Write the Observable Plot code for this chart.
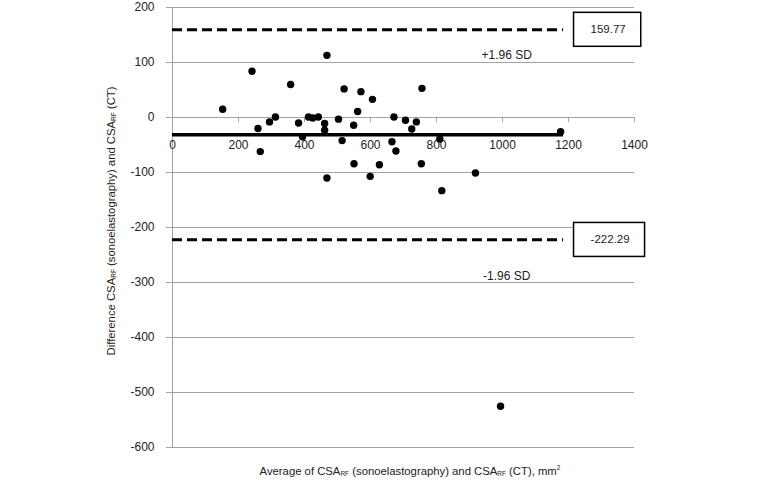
<!DOCTYPE html>
<html><head><meta charset="utf-8">
<script src="https://cdn.jsdelivr.net/npm/d3@7"></script>
<script src="https://cdn.jsdelivr.net/npm/@observablehq/plot@0.6"></script>
<style>
body{margin:0;background:#fff}
#chart svg{font-family:"Liberation Sans Narrow","Arial Narrow","Liberation Sans",Arial,sans-serif}
</style>
</head><body><div id="chart"></div>
<script>
// Bland–Altman data
const avg  = [152,241,259,266,294,312,358,382,394,412,425,442,461,461,468,468,503,514,520,549,550,561,571,599,606,627,665,671,677,706,725,739,754,756,810,816,918,1176,994];
const diff = [15,84,-20,-62,-8,1,60,-10,-35,1,-1,1,-11,-23,113,-110,-3,-42,52,-14,-84,11,47,-107,33,-86,-44,1,-61,-5,-21,-8,-84,53,-39,-133,-101,-26,-525];
const meanDiff = -31.26;
const loaValues = [159.77, -222.29];
const loaText = ["159.77", "-222.29"];
const sdText = ["+1.96 SD", "-1.96 SD"];
const lineExtent = [0, 1185];
const sdLabelX = 1013;
const xTicks = [0,200,400,600,800,1000,1200,1400];
const yTicks = [200,100,0,-100,-200,-300,-400,-500,-600];

const pts = avg.map((a,i)=>({a, d: diff[i]}));
const grey = "#a3a3a3";

const chart = Plot.plot({
  width: 770, height: 492,
  marginLeft: 172, marginRight: 136, marginTop: 7, marginBottom: 45,
  style: {fontSize: "12px", color: "#222", background: "#fff"},
  x: {domain: [0, 1400], axis: null},
  y: {domain: [-600, 200]},
  marks: [
    Plot.gridY(yTicks, {stroke: grey, strokeOpacity: 1, strokeWidth: 1}),
    Plot.ruleX([0], {stroke: grey, strokeWidth: 1}),
    Plot.axisY(yTicks, {tickSize: 6, tickPadding: 12, tickFormat: d => String(d), label: null, stroke: grey, fill: "#222"}),
    Plot.ruleX(xTicks, {x: d => d, y1: 0, y2: 0, insetBottom: -5, stroke: grey}),
    Plot.text(xTicks, {x: d => d, y: 0, dy: 28, text: d => String(d), fill: "#222"}),
    Plot.ruleY(loaValues, {x1: lineExtent[0], x2: lineExtent[1], stroke: "#000", strokeWidth: 3, strokeDasharray: "10,5"}),
    Plot.ruleY([meanDiff], {x1: lineExtent[0], x2: lineExtent[1], stroke: "#000", strokeWidth: 3.5}),
    Plot.dot(pts, {x: "a", y: "d", r: 3.7, fill: "#000", stroke: null}),
    Plot.text(loaValues, {x: lineExtent[1], y: d => d, dx: 27, text: (d,i) => loaText[i], textAnchor: "start", fill: "#222", fontSize: 11.5}),
    Plot.text([loaValues[0]], {x: sdLabelX, y: d => d, dy: 26, text: () => sdText[0], fill: "#222"}),
    Plot.text([loaValues[1]], {x: sdLabelX, y: d => d, dy: 36, text: () => sdText[1], fill: "#222"})
  ]
});
document.getElementById("chart").append(chart);

const svg = d3.select(chart);
// boxes around the limit values
svg.selectAll("text").filter(function(){ return loaText.includes(this.textContent); }).each(function(){
  const b = this.getBBox();
  const pl = 17, pr = 15, pv = 11;
  const r = d3.select(this.parentNode).insert("rect", () => this)
    .attr("x", b.x - pl).attr("y", b.y - pv)
    .attr("width", b.width + pl + pr).attr("height", b.height + 2*pv)
    .attr("fill", "#fff").attr("stroke", "#000").attr("stroke-width", 1.5);
  const tr = this.getAttribute("transform");
  if (tr) r.attr("transform", tr);
});

// axis titles with subscripts
const xt = svg.append("text").attr("x", 410).attr("y", 475).attr("text-anchor", "middle").attr("fill", "#222").attr("font-size", 11.3);
xt.append("tspan").text("Average of CSA");
xt.append("tspan").attr("font-size", 6.5).attr("dy", 1).text("RF");
xt.append("tspan").attr("dy", -1).text(" (sonoelastography) and CSA");
xt.append("tspan").attr("font-size", 6.5).attr("dy", 1).text("RF");
xt.append("tspan").attr("dy", -1).text(" (CT), mm");
xt.append("tspan").attr("font-size", 6.5).attr("dy", -5).text("2");

const yt = svg.append("text").attr("transform", "translate(115,221) rotate(-90)").attr("text-anchor", "middle").attr("fill", "#222").attr("font-size", 11.3);
yt.append("tspan").text("Difference CSA");
yt.append("tspan").attr("font-size", 6.5).attr("dy", 1).text("RF");
yt.append("tspan").attr("dy", -1).text(" (sonoelastography) and CSA");
yt.append("tspan").attr("font-size", 6.5).attr("dy", 1).text("RF");
yt.append("tspan").attr("dy", -1).text(" (CT)");
</script>
</body></html>
